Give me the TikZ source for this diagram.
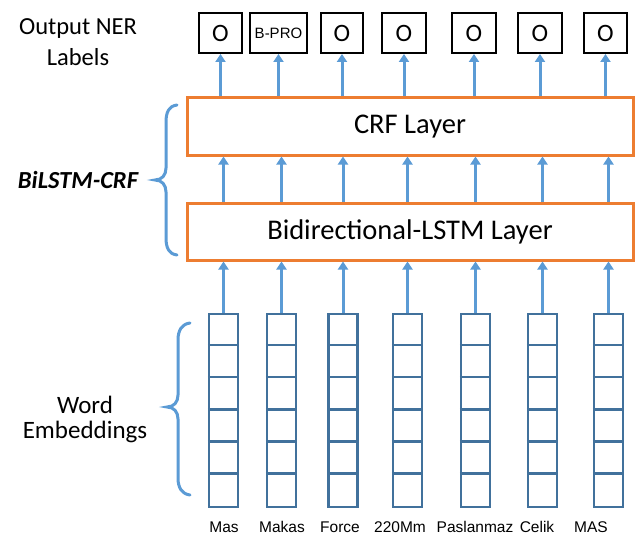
\documentclass[tikz,border=0pt]{standalone}
\usepackage{fontspec}
\setmainfont{Carlito}
\newfontfamily\arialf{Liberation Sans}
\usetikzlibrary{arrows.meta}
\definecolor{orng}{HTML}{ED7D31}
\definecolor{lblue}{HTML}{5B9BD5}
\definecolor{dblue}{HTML}{41719C}
\tikzset{
  layerbox/.style={draw=orng, line width=3pt, minimum width=446pt, minimum height=57pt, inner sep=0pt, font=\fontsize{28.5}{30}\selectfont},
  outbox/.style={draw=black, line width=2pt, minimum height=40pt, inner sep=0pt, font=\fontsize{25}{26}\selectfont},
  embcol/.style={draw=dblue, line width=2.5pt, minimum width=29pt, minimum height=193pt, inner sep=0pt},
  cellline/.style={draw=dblue, line width=2.5pt},
  upar/.style={draw=lblue, line width=3pt, -{Triangle[length=8pt,width=10pt]}},
  bracel/.style={draw=lblue, line width=3pt, line cap=round},
  wordlab/.style={font=\arialf\fontsize{15.5}{17}\selectfont, inner sep=0pt},
  sidelab/.style={align=center, inner sep=0pt}
}
\begin{document}
\begin{tikzpicture}[x=1pt,y=-1pt]
\useasboundingbox[fill=white] (0,0) rectangle (638,535);

% side labels
\node[sidelab, font=\fontsize{24.5}{31}\selectfont] (lout) at (78,42) {Output NER\\Labels};
\node[sidelab, font=\bfseries\itshape\fontsize{24.5}{26}\selectfont] (lbil) at (78,180) {BiLSTM-CRF};
\node[sidelab, font=\fontsize{25}{25}\selectfont] (lemb) at (85,419) {Word\\Embeddings};

% layers
\node[layerbox] (crf) at (410,126.5) {CRF Layer};
\node[layerbox] (lstm) at (410,231.5) {Bidirectional-LSTM Layer};

% output boxes
\node[outbox, minimum width=43pt] (o1) at (220.5,33) {O};
\node[outbox, minimum width=57pt, font=\arialf\fontsize{15}{17}\selectfont] (o2) at (278.5,33) {B-PRO};
\node[outbox, minimum width=42pt] (o3) at (342,33) {O};
\node[outbox, minimum width=44pt] (o4) at (404,33) {O};
\node[outbox, minimum width=44pt] (o5) at (474,33) {O};
\node[outbox, minimum width=44pt] (o6) at (540,33) {O};
\node[outbox, minimum width=43pt] (o7) at (605.5,33) {O};

% embedding columns
\foreach \i/\x in {1/223.5,2/281.5,3/343,4/407.5,5/475.5,6/542.5,7/608.5}{
  \node[embcol] (e\i) at (\x,410.5) {};
  \foreach \k in {1,...,5}{
    \draw[cellline] ([yshift=-\k*193/6 pt]e\i.north west) -- ([yshift=-\k*193/6 pt]e\i.north east);
  }
}

% word labels
\node[wordlab] (w1) at (224,527) {Mas};
\node[wordlab] (w2) at (282,527) {Makas};
\node[wordlab] (w3) at (340,527) {Force};
\node[wordlab] (w4) at (400,527) {220Mm};
\node[wordlab] (w5) at (475,527) {Paslanmaz};
\node[wordlab] (w6) at (537,527) {Celik};
\node[wordlab] (w7) at (591,527) {MAS};

% arrows
\foreach \i in {1,...,7}{
  \draw[upar] (e\i.north) -- (lstm.south -| e\i.north);
  \draw[upar] (lstm.north -| e\i.north) -- (crf.south -| e\i.north);
  \draw[upar] (crf.north -| o\i.south) -- (o\i.south);
}

% braces
\draw[bracel] (177,105) .. controls (169,106) and (166,112) .. (166,122) -- (166,168)
  .. controls (166,175) and (162,180) .. (155,180)
  .. controls (162,180) and (166,185) .. (166,192) -- (166,238)
  .. controls (166,248) and (169,254) .. (177,255);
\draw[bracel] (190,323) .. controls (182,324) and (178,330) .. (178,340) -- (178,395)
  .. controls (178,402) and (174,407) .. (167,407)
  .. controls (174,407) and (178,412) .. (178,419) -- (178,478)
  .. controls (178,488) and (182,494) .. (190,495);
\end{tikzpicture}
\end{document}
